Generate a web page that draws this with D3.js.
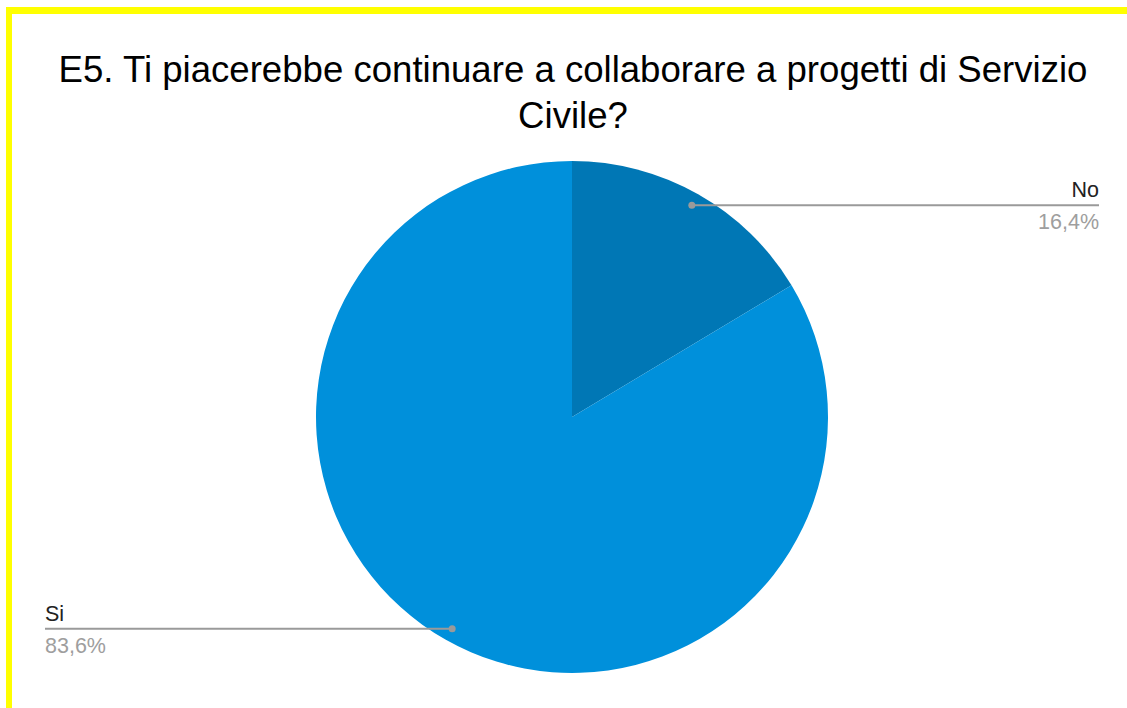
<!DOCTYPE html>
<html>
<head>
<meta charset="utf-8">
<script src="https://cdn.jsdelivr.net/npm/d3@7"></script>
<style>
  html, body { margin: 0; padding: 0; background: #fff; }
  svg { display: block; font-family: "Liberation Sans", Arial, sans-serif; }
</style>
</head>
<body>
<svg id="chart" width="1127" height="708"></svg>
<script>
// Survey answers and their shares (percent)
const categories = ["No", "Si"];
const values = [16.4, 83.6];
const valueLabels = ["16,4%", "83,6%"];
const colors = ["#0077b5", "#0090db"];
const titleLines = ["E5. Ti piacerebbe continuare a collaborare a progetti di Servizio", "Civile?"];

const svg = d3.select("#chart");
const W = 1127, H = 708;

// Yellow frame along top and left edges
svg.append("rect").attr("x", 6).attr("y", 7).attr("width", W - 6).attr("height", 7).attr("fill", "#ffff00");
svg.append("rect").attr("x", 6).attr("y", 7).attr("width", 6).attr("height", H - 7).attr("fill", "#ffff00");

// Title
svg.append("text")
  .attr("text-anchor", "middle")
  .attr("font-size", 36.6)
  .attr("fill", "#000")
  .selectAll("tspan")
  .data(titleLines)
  .join("tspan")
  .attr("x", 573)
  .attr("y", (d, i) => 82 + i * 46)
  .text(d => d);

// Pie
const cx = 572, cy = 417, r = 256;
const data = categories.map((c, i) => ({ cat: c, value: values[i], label: valueLabels[i], color: colors[i] }));
const pie = d3.pie().value(d => d.value).sort(null);
const arcs = pie(data);
const arc = d3.arc().innerRadius(0).outerRadius(r);

const g = svg.append("g").attr("transform", `translate(${cx},${cy})`);
g.selectAll("path")
  .data(arcs)
  .join("path")
  .attr("d", arc)
  .attr("fill", d => d.data.color);

// Leader lines and labels
const labelX = [1099, 45];
arcs.forEach((a, i) => {
  const mid = (a.startAngle + a.endAngle) / 2;
  const px = cx + Math.sin(mid) * r * 0.95;
  const py = cy - Math.cos(mid) * r * 0.95;
  const lx = labelX[i];
  const right = lx > cx;
  svg.append("line")
    .attr("x1", px).attr("y1", py)
    .attr("x2", lx).attr("y2", py)
    .attr("stroke", "#9a9a9a").attr("stroke-width", 2);
  svg.append("circle")
    .attr("cx", px).attr("cy", py).attr("r", 3.5)
    .attr("fill", "#9a9a9a");
  svg.append("text")
    .attr("x", lx).attr("y", py - 8)
    .attr("text-anchor", right ? "end" : "start")
    .attr("font-size", 21.5)
    .attr("fill", "#222")
    .text(a.data.cat);
  svg.append("text")
    .attr("x", lx).attr("y", py + 24)
    .attr("text-anchor", right ? "end" : "start")
    .attr("font-size", 21.5)
    .attr("fill", "#9e9e9e")
    .text(a.data.label);
});
</script>
</body>
</html>
